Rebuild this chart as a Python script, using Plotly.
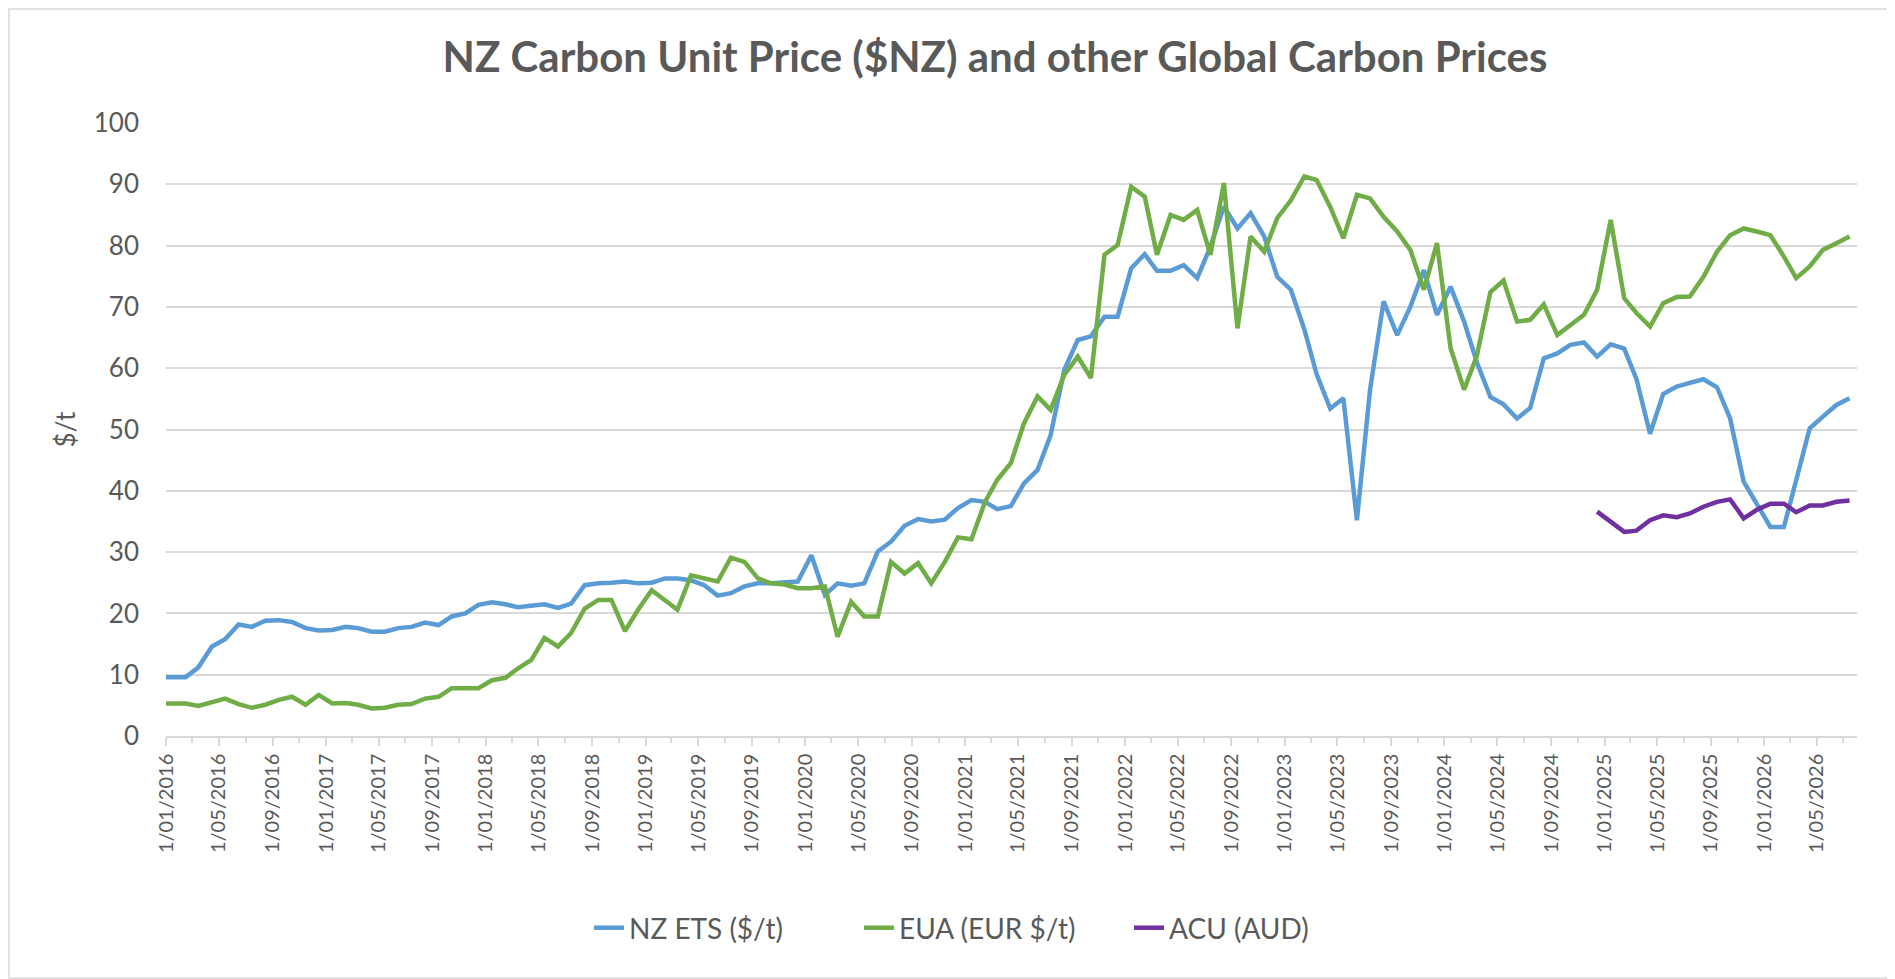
import pandas as pd
import plotly.graph_objects as go

# first reading is on 1 Jan 2016, the rest are mid-month
DATES = ["2016-01-01"] + [d.strftime("%Y-%m-15") for d in pd.date_range("2016-02-01", "2026-07-01", freq="MS")]

NZ_ETS = [
    9.6, 9.6, 11.2, 14.6, 15.8, 18.2, 17.8, 18.8, 18.9, 18.6, 17.6, 17.2,
    17.3, 17.8, 17.6, 17.0, 17.0, 17.6, 17.8, 18.5, 18.1, 19.5, 20.0, 21.4,
    21.8, 21.5, 21.0, 21.3, 21.5, 20.9, 21.6, 24.6, 24.9, 25.0, 25.2, 24.9,
    25.0, 25.7, 25.7, 25.4, 24.6, 22.9, 23.3, 24.4, 24.9, 24.9, 25.0, 25.2,
    29.5, 23.0, 24.9, 24.5, 24.9, 30.1, 31.7, 34.3, 35.4, 35.0, 35.3, 37.2,
    38.5, 38.2, 37.0, 37.5, 41.2, 43.4, 49.1, 59.7, 64.6, 65.2, 68.4, 68.4,
    76.3, 78.6, 75.9, 75.9, 76.8, 74.7, 79.8, 86.4, 82.8, 85.3, 81.5, 74.9,
    72.8, 66.3, 59.0, 53.4, 55.1, 35.2, 56.5, 70.9, 65.4, 70.0, 76.0, 68.7,
    73.3, 67.6, 61.0, 55.3, 54.1, 51.8, 53.5, 61.6, 62.4, 63.8, 64.2, 61.9,
    63.9, 63.2, 58.2, 49.3, 55.8, 57.0, 57.6, 58.2, 56.9, 51.8, 41.5, 37.9,
    34.1, 34.1, 42.0, 50.2, 52.1, 54.0, 55.1,
]

EUA = [
    5.3, 5.3, 4.9, 5.6, 6.1, 5.2, 4.6, 5.1, 5.9, 6.4, 5.1, 6.7,
    5.3, 5.4, 5.1, 4.5, 4.6, 5.1, 5.2, 6.1, 6.4, 7.8, 7.8, 7.8,
    9.1, 9.5, 11.0, 12.4, 16.0, 14.6, 16.8, 20.8, 22.2, 22.2, 17.1, 20.6,
    23.8, 22.2, 20.6, 26.2, 25.7, 25.2, 29.1, 28.4, 25.7, 24.9, 24.7, 24.1,
    24.1, 24.4, 16.2, 21.9, 19.5, 19.5, 28.4, 26.5, 28.2, 24.9, 28.4, 32.4,
    32.1, 38.2, 41.8, 44.5, 51.0, 55.4, 53.2, 58.9, 61.9, 58.4, 78.5, 80.1,
    89.6, 88.0, 78.5, 85.0, 84.2, 85.8, 78.5, 90.2, 66.5, 81.5, 79.0, 84.5,
    87.4, 91.3, 90.7, 86.3, 81.2, 88.3, 87.7, 84.7, 82.3, 79.3, 72.8, 80.4,
    63.3, 56.5, 62.0, 72.4, 74.3, 67.6, 67.9, 70.4, 65.4, 67.0, 68.7, 72.8,
    84.2, 71.4, 69.0, 66.8, 70.6, 71.6, 71.7, 74.9, 79.0, 81.7, 82.8, 82.3,
    81.7, 78.2, 74.7, 76.6, 79.3, 80.4, 81.5,
]

# ACU only starts in Dec 2024
ACU = [
    36.6, 35.0, 33.3, 33.5, 35.2, 36.0, 35.7, 36.3, 37.4, 38.2,
    38.6, 35.5, 36.9, 37.9, 37.9, 36.5, 37.6, 37.6, 38.2, 38.4,
]

SERIES = [
    ("NZ ETS ($/t)", DATES, NZ_ETS, "#5B9BD5"),
    ("EUA (EUR $/t)", DATES, EUA, "#70AD47"),
    ("ACU (AUD)", DATES[-len(ACU):], ACU, "#7030A0"),
]

# page size and plot-area margins; the page body adds 8px top/left
W, H = 1895, 979
PAD = 8
FW, FH = W - PAD, H - PAD
L, R, T, B = 166 - PAD, 38, 123 - PAD, 243
GREY = "#D9D9D9"
TEXT = "#595959"
FONT = "Lato"

fig = go.Figure()
for name, x, y, color in SERIES:
    fig.add_trace(go.Scatter(x=x, y=y, mode="lines", name=name,
                             line=dict(color=color, width=4.5)))

fig.update_xaxes(
    type="date",
    range=["2016-01-01", "2026-08-01"],
    tick0="2016-01-01",
    dtick="M4",
    tickformat="%-d/%m/%Y",
    tickangle=-90,
    ticks="outside",
    ticklen=8,
    tickwidth=1.5,
    tickcolor=GREY,
    minor=dict(dtick="M2", ticks="outside", ticklen=5, tickwidth=1.5, tickcolor=GREY),
    showgrid=False,
    showline=True,
    linecolor=GREY,
    linewidth=1.5,
    tickfont=dict(family=FONT, size=20, color=TEXT),
)
fig.update_yaxes(
    range=[0, 100],
    dtick=10,
    showgrid=True,
    gridcolor=GREY,
    gridwidth=1.5,
    zeroline=False,
    ticks="",
    ticklabelstandoff=26,
    tickfont=dict(family=FONT, size=26, color=TEXT),
    title=dict(text="$/t", standoff=10, font=dict(family=FONT, size=26, color=TEXT)),
)

# thin frame round the whole chart area
pw, ph = FW - L - R, FH - T - B
fig.add_shape(type="rect", xref="paper", yref="paper",
              x0=(1 - L) / pw, x1=(FW - L - 1) / pw,
              y0=-(B - 1) / ph, y1=(FH - B - 1) / ph,
              line=dict(color=GREY, width=1.5))

fig.update_layout(
    width=FW,
    height=FH,
    margin=dict(l=L, r=R, t=T, b=B),
    paper_bgcolor="white",
    plot_bgcolor="white",
    title=dict(text="<b>NZ Carbon Unit Price ($NZ) and other Global Carbon Prices</b>",
               x=(995 - PAD) / FW, xanchor="center", y=1 - (57 - PAD) / FH, yanchor="middle",
               font=dict(family=FONT, size=42, color=TEXT)),
    legend=dict(orientation="h", xref="container", yref="container",
                x=(994 - PAD) / FW, xanchor="center", y=1 - (928 - PAD) / FH, yanchor="middle",
                entrywidth=225, entrywidthmode="pixels",
                font=dict(family=FONT, size=28, color=TEXT)),
    showlegend=True,
)

fig.write_html("out.html")
